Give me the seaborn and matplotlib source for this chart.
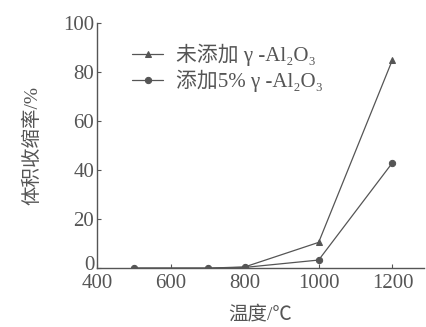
import matplotlib
matplotlib.use("Agg")
import matplotlib.pyplot as plt
import matplotlib.transforms as mtransforms
import seaborn as sns
import pandas as pd

temps = [500, 700, 800, 1000, 1200]
no_add = [0.0, 0.0, 0.5, 10.5, 85.0]
add_5 = [0.0, 0.0, 0.3, 3.3, 43.0]
labels = ["未添加 γ -Al₂O₃", "添加5% γ -Al₂O₃"]

sns.set_style("ticks")
plt.rcParams['font.family'] = ['Liberation Serif', 'Noto Sans CJK SC', 'DejaVu Serif']

df = pd.DataFrame({
    "T": temps * 2,
    "v": no_add + add_5,
    "s": [labels[0]] * len(temps) + [labels[1]] * len(temps),
})

col = "#555555"
fig = plt.figure(figsize=(4.26, 3.27), dpi=100)
ax = fig.add_axes([0.228, 0.180, 0.767, 0.750])
sns.lineplot(data=df, x="T", y="v", hue="s", style="s",
             markers={labels[0]: "^", labels[1]: "o"}, dashes=False,
             palette={labels[0]: col, labels[1]: col},
             markersize=4.5, linewidth=0.9, ax=ax, markeredgecolor=col)

ax.set_xlim(400, 1285)
ax.set_ylim(0, 100)
ax.set_xticks([400, 600, 800, 1000, 1200])
ax.set_yticks([0, 20, 40, 60, 80, 100])
ax.tick_params(direction="in", length=3, colors=col, labelsize=15, width=0.8)
ax.tick_params(axis="x", pad=4)
ax.tick_params(axis="y", pad=2)
for t in ax.get_xticklabels() + ax.get_yticklabels():
    t.set_color(col)
ylabs = ax.get_yticklabels()
ylabs[0].set_transform(ylabs[0].get_transform() +
                       mtransforms.ScaledTranslation(0, 5 / 100, fig.dpi_scale_trans))
sns.despine(ax=ax)
for s in ["left", "bottom"]:
    ax.spines[s].set_color(col)
    ax.spines[s].set_linewidth(1.0)
ax.set_xlabel("温度/℃", fontsize=14, color=col, labelpad=9)
ax.set_ylabel("体积收缩率/%", fontsize=14, color=col, labelpad=16)
leg = ax.legend(loc="upper left", bbox_to_anchor=(0.05, 0.99), frameon=False,
                fontsize=15, handlelength=1.5, handletextpad=0.6, labelspacing=0.15)
for t in leg.get_texts():
    t.set_color(col)
fig.savefig("out.png", dpi=100)
